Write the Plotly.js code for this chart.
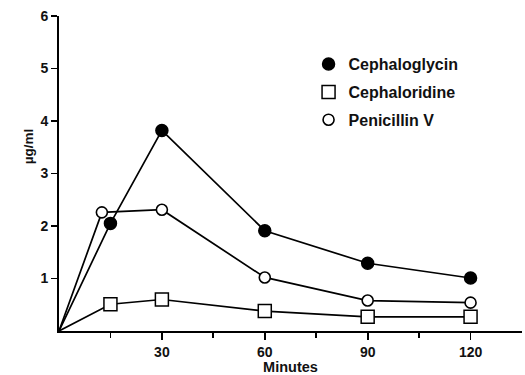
<!DOCTYPE html>
<html>
<head>
<meta charset="utf-8">
<script src="https://cdn.plot.ly/plotly-3.0.1.min.js"></script>
<style>html,body{margin:0;padding:0;background:#fff;}#chart{width:525px;height:375px;}</style>
</head>
<body>
<div id="chart"></div>
<script>
// Data
const seriesNames = ["Cephaloglycin", "Cephaloridine", "Penicillin V"];
const minutesCephaloglycin = [0, 15, 30, 60, 90, 120];
const cephaloglycin = [0, 2.05, 3.82, 1.91, 1.29, 1.01];
const minutesCephaloridine = [0, 15, 30, 60, 90, 120];
const cephaloridine = [0, 0.51, 0.60, 0.38, 0.27, 0.27];
const minutesPenicillinV = [0, 12.5, 30, 60, 90, 120];
const penicillinV = [0, 2.26, 2.31, 1.02, 0.58, 0.54];
const xTickVals = [30, 60, 90, 120];
const xTickText = ["30", "60", "90", "120"];
const xMinorTicks = [15, 45, 75, 105];
const yTickVals = [1, 2, 3, 4, 5, 6];

const xs = [minutesCephaloglycin, minutesCephaloridine, minutesPenicillinV];
const ys = [cephaloglycin, cephaloridine, penicillinV];
const markerStyles = [
  {symbol: "circle", size: 12, color: "#000", line: {color: "#000", width: 1.5}},
  {symbol: "square", size: 13, color: "#fff", line: {color: "#000", width: 1.5}},
  {symbol: "circle", size: 11, color: "#fff", line: {color: "#000", width: 1.6}}
];

const traces = [];
// connecting lines (including origin)
for (let i = 0; i < 3; i++) {
  traces.push({
    x: xs[i], y: ys[i], type: "scatter", mode: "lines",
    line: {color: "#000", width: 1.7}, showlegend: false, hoverinfo: "skip",
    cliponaxis: false
  });
}
// markers (no marker at origin)
for (let i = 0; i < 3; i++) {
  traces.push({
    x: xs[i].slice(1), y: ys[i].slice(1), type: "scatter", mode: "markers",
    name: seriesNames[i], marker: markerStyles[i], cliponaxis: false,
    legendgroup: "g" + i
  });
}

const font = {family: "Liberation Sans, Arial, sans-serif", color: "#111"};
const boldFont = (s) => Object.assign({size: s, weight: "bold"}, font);
const layout = {
  width: 525, height: 375,
  margin: {l: 59, r: 3, t: 16, b: 44},
  paper_bgcolor: "#fff", plot_bgcolor: "#fff",
  font: Object.assign({size: 14}, font),
  showlegend: true,
  legend: {
    x: 0.539, y: 0.901, xanchor: "left", yanchor: "top",
    font: boldFont(16),
    tracegroupgap: 4, bgcolor: "rgba(0,0,0,0)", traceorder: "grouped"
  },
  xaxis: {
    range: [0, 135], showgrid: false, zeroline: false,
    showline: true, linecolor: "#000", linewidth: 1.7,
    ticks: "outside", ticklen: 7, tickwidth: 1.7, tickcolor: "#000",
    tickmode: "array", tickvals: xTickVals, ticktext: xTickText,
    tickfont: boldFont(14),
    minor: {tickmode: "array", tickvals: xMinorTicks, ticks: "outside", ticklen: 5, tickwidth: 1.7, tickcolor: "#000"},
    title: {text: "Minutes", font: boldFont(14.5), standoff: 3}
  },
  yaxis: {
    range: [0, 6], showgrid: false, zeroline: false,
    showline: true, linecolor: "#000", linewidth: 2,
    ticks: "outside", ticklen: 6, tickwidth: 1.7, tickcolor: "#000",
    tickmode: "array", tickvals: yTickVals,
    tickfont: boldFont(14)
  },
  annotations: [{
    text: "\u00b5g/ml", xref: "paper", yref: "y", x: 0, y: 3.52,
    xshift: -31, textangle: -90, showarrow: false,
    xanchor: "center", yanchor: "middle",
    font: boldFont(13.5)
  }]
};

Plotly.newPlot("chart", traces, layout, {displayModeBar: false, staticPlot: true});
</script>
</body>
</html>
